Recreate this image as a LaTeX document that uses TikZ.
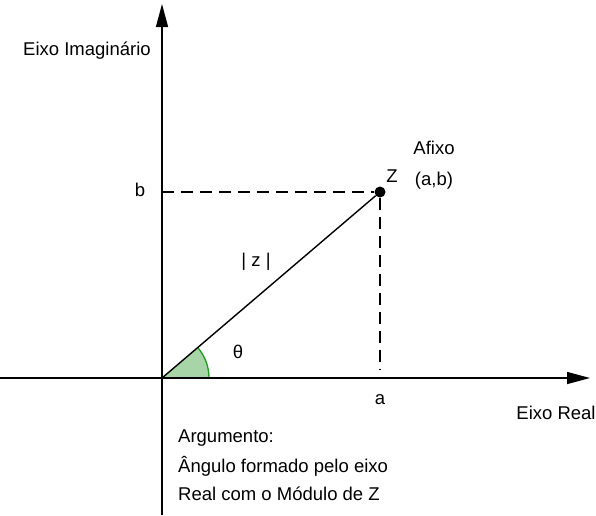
\documentclass[tikz,border=0pt]{standalone}
\usepackage{fontspec}
\setmainfont{Liberation Sans}
\usetikzlibrary{arrows.meta}
\definecolor{angfill}{HTML}{A8D5A8}
\definecolor{angline}{HTML}{1E9A1E}
\tikzset{
  axis/.style={line width=1.4pt, -{Triangle[length=23pt,width=12pt]}},
  guide/.style={line width=1.2pt, dash pattern=on 12pt off 7pt},
  lbl/.style={inner sep=0pt, font=\fontsize{18.5}{22}\selectfont},
  dotpt/.style={circle, fill=black, inner sep=0pt, minimum size=11pt}
}
\begin{document}
\begin{tikzpicture}[x=1pt,y=-1pt]
\useasboundingbox (0,0) rectangle (596,515);
\coordinate (O) at (162,378);
\coordinate (xl) at (0,378);
\coordinate (xr) at (590,378);
\coordinate (yb) at (162,515);
\coordinate (yt) at (162,4);
\coordinate (bpt) at (162,192);
\coordinate (apt) at (380,370);
% angle
\fill[angfill] (O) -- (209,378) arc[start angle=0, end angle=-40.5, radius=47] -- cycle;
\draw[angline, line width=1.3pt] (209,378) arc[start angle=0, end angle=-40.5, radius=47];
% axes
\draw[axis] (xl) -- (xr);
\draw[axis] (yb) -- (yt);
\node[dotpt] (Z) at (380,192) {};
\draw[guide] (bpt) -- (Z);
\draw[guide] (Z) -- (apt);
\draw[line width=1.4pt] (O) -- (Z);
% labels
\node[lbl] (eim) at (87,51) {Eixo Imaginário};
\node[lbl] (ere) at (556,413) {Eixo Real};
\node[lbl] (lb) at (140,190) {b};
\node[lbl] (la) at (380,400) {a};
\node[lbl] (lz) at (392,176) {Z};
\node[lbl] (afx) at (434,148) {Afixo};
\node[lbl] (ab) at (434,181) {(a,b)};
\node[lbl] (mod) at (256,262) {| z |};
\node[lbl] (th) at (238,352) {θ};
\node[lbl, anchor=west] (arg1) at (178,438) {Argumento:};
\node[lbl, anchor=west] (arg2) at (178,466) {Ângulo formado pelo eixo};
\node[lbl, anchor=west] (arg3) at (178,494) {Real com o Módulo de Z};
\end{tikzpicture}
\end{document}
